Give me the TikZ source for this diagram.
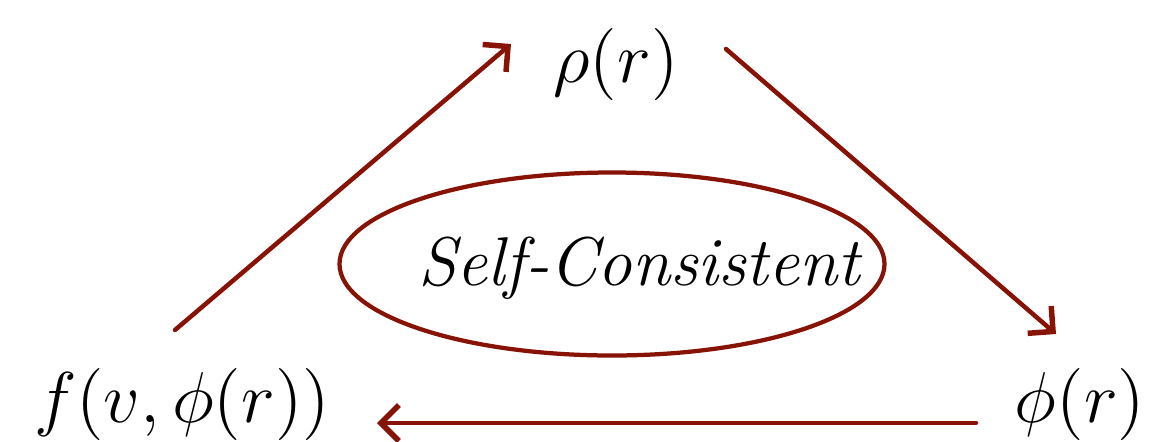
\documentclass[tikz,border=0pt]{standalone}
\usetikzlibrary{arrows.meta,shapes.geometric}
\definecolor{darkred}{RGB}{135,18,6}
\begin{document}
\begin{tikzpicture}[x=0.2pt,y=-0.2pt,
  mathlabel/.style={inner sep=0pt,font=\fontsize{15.8}{19}\selectfont},
  flow/.style={draw=darkred,line width=0.9pt,line cap=round,-{Straight Barb[length=3.6pt,width=7.2pt,line width=1.1pt]}},
  loopshape/.style={draw=darkred,line width=0.85pt,ellipse,minimum width=545*0.2pt,minimum height=183*0.2pt,inner sep=0pt}
]
\useasboundingbox (0,0) rectangle (1173,441);
\node[mathlabel] (rho) at (616,64) {$\rho(r)$};
\node[mathlabel] (f) at (182,404) {$f(v,\phi(r))$};
\node[mathlabel] (phi) at (1080,404) {$\phi(r)$};
\node[loopshape] (loop) at (612,264) {};
\node[inner sep=0pt,font=\rmfamily\itshape\fontsize{13.8}{17}\selectfont] (sc) at (639,268) {Self-Consistent};
\coordinate (f-out) at (175,330);
\coordinate (rho-in) at (511,44);
\coordinate (rho-out) at (726,49);
\coordinate (phi-in) at (1056,334);
\coordinate (phi-out) at (976,423);
\coordinate (f-in) at (377,423);
\draw[flow] (f-out) -- (rho-in);
\draw[flow] (rho-out) -- (phi-in);
\draw[flow] (phi-out) -- (f-in);
\end{tikzpicture}
\end{document}
